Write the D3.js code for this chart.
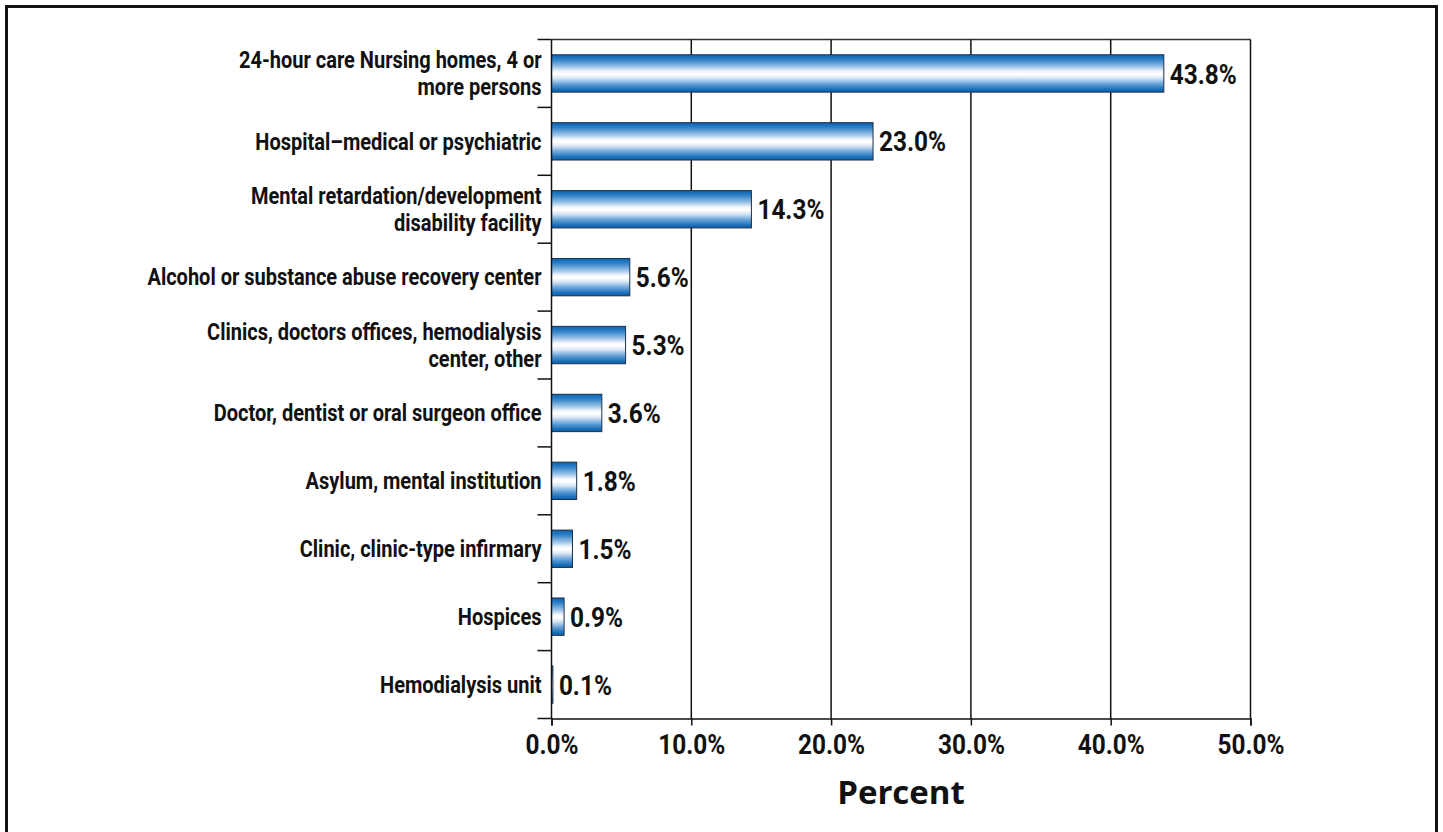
<!DOCTYPE html>
<html>
<head>
<meta charset="utf-8">
<script src="https://cdn.jsdelivr.net/npm/d3@7"></script>
<style>
  html, body { margin: 0; padding: 0; background: #fff; }
  svg { display: block; }
  .cat { font-family: "Roboto", "Liberation Sans", sans-serif; font-weight: bold; font-size: 23px; fill: #111; }
  .val { font-family: "Roboto", "Liberation Sans", sans-serif; font-weight: bold; font-size: 28px; fill: #111; }
  .tick-label { font-family: "Roboto", "Liberation Sans", sans-serif; font-weight: bold; font-size: 28px; fill: #111; }
  .title { font-family: "Open Sans", "Liberation Sans", sans-serif; font-weight: bold; font-size: 33px; fill: #111; }
</style>
</head>
<body>
<svg id="chart" width="1443" height="832"></svg>
<script>
// Place of occurrence categories (each entry is a list of label lines)
const categories = [
  ["24-hour care Nursing homes, 4 or", "more persons"],
  ["Hospital\u2013medical or psychiatric"],
  ["Mental retardation/development", "disability facility"],
  ["Alcohol or substance abuse recovery center"],
  ["Clinics, doctors offices, hemodialysis", "center, other"],
  ["Doctor, dentist or oral surgeon office"],
  ["Asylum, mental institution"],
  ["Clinic, clinic-type infirmary"],
  ["Hospices"],
  ["Hemodialysis unit"]
];
const percents = [43.8, 23.0, 14.3, 5.6, 5.3, 3.6, 1.8, 1.5, 0.9, 0.1];
const xTicks = [0, 10, 20, 30, 40, 50];
const axisTitle = "Percent";

const svg = d3.select("#chart");
const plot = { left: 551.5, right: 1250.5, top: 39.5, bottom: 718.5 };
const narrow = 0.87; // horizontal squeeze for a condensed look

// outer frame
svg.append("rect")
  .attr("x", 6.5).attr("y", 6.5)
  .attr("width", 1430).attr("height", 900)
  .attr("fill", "none").attr("stroke", "#111").attr("stroke-width", 3);

const x = d3.scaleLinear().domain([0, 50]).range([plot.left, plot.right]);
const y = d3.scaleBand().domain(d3.range(categories.length))
  .range([plot.top, plot.bottom]).paddingInner(0.45).paddingOuter(0.225);
const yOuter = d3.scaleBand().domain(d3.range(categories.length))
  .range([plot.top, plot.bottom]);

// bar gradient: blue edges fading to white in the middle
const defs = svg.append("defs");
const grad = defs.append("linearGradient").attr("id", "barGrad")
  .attr("x1", 0).attr("y1", 0).attr("x2", 0).attr("y2", 1);
[[0, "#0b62b0"], [0.12, "#2a7fc6"], [0.3, "#8fbbe3"], [0.45, "#f4f8fd"], [0.52, "#ffffff"],
 [0.62, "#dbe8f6"], [0.78, "#6aa4d8"], [0.92, "#1b72bd"], [1, "#0b5ea8"]]
  .forEach(([o, c]) => grad.append("stop").attr("offset", o).attr("stop-color", c));

// top border of plot area
svg.append("line").attr("x1", plot.left).attr("x2", plot.right)
  .attr("y1", plot.top).attr("y2", plot.top).attr("stroke", "#333").attr("stroke-width", 1.5);

// vertical gridlines (the 50% line closes the plot on the right)
svg.append("g").selectAll("line").data(xTicks.filter(d => d > 0)).join("line")
  .attr("x1", d => x(d)).attr("x2", d => x(d))
  .attr("y1", plot.top).attr("y2", plot.bottom)
  .attr("stroke", "#111").attr("stroke-width", 1.5);

// bars
svg.append("g").selectAll("rect").data(percents).join("rect")
  .attr("x", x(0))
  .attr("y", (d, i) => y(i))
  .attr("width", d => x(d) - x(0))
  .attr("height", y.bandwidth())
  .attr("fill", "url(#barGrad)")
  .attr("stroke", "#1d2f44").attr("stroke-width", 1);

// value labels
svg.append("g").selectAll("text").data(percents).join("text")
  .attr("class", "val")
  .attr("transform", (d, i) => `translate(${x(d) + 6},${y(i) + y.bandwidth() / 2}) scale(${narrow},1)`)
  .attr("dy", "0.36em")
  .text(d => d.toFixed(1) + "%");

// bottom axis
const xAxis = d3.axisBottom(x).tickValues(xTicks).tickSize(7).tickFormat(d => d.toFixed(1) + "%");
const gx = svg.append("g").attr("transform", `translate(0,${plot.bottom})`).call(xAxis);
gx.select(".domain").attr("stroke", "#111").attr("stroke-width", 1.5);
gx.selectAll(".tick line").attr("stroke", "#111").attr("stroke-width", 1.5);
gx.selectAll(".tick text").attr("class", "tick-label").attr("font-family", null)
  .attr("font-size", null).attr("fill", null)
  .attr("y", 0).attr("dy", null)
  .attr("transform", `translate(0,35) scale(${narrow},1)`);

// left axis line and category separator ticks
const gy = svg.append("g");
gy.append("line").attr("x1", plot.left).attr("x2", plot.left)
  .attr("y1", plot.top).attr("y2", plot.bottom).attr("stroke", "#111").attr("stroke-width", 1.5);
const bounds = d3.range(categories.length).map(i => yOuter(i)).concat([plot.bottom]);
gy.selectAll("line.sep").data(bounds).join("line").attr("class", "sep")
  .attr("x1", plot.left - 14).attr("x2", plot.left)
  .attr("y1", d => d).attr("y2", d => d)
  .attr("stroke", "#111").attr("stroke-width", 1.5);

// category labels, right-aligned against the axis
const lh = 27;
const cat = svg.append("g").selectAll("text").data(categories).join("text")
  .attr("class", "cat")
  .attr("text-anchor", "end")
  .attr("transform", (d, i) =>
    `translate(${plot.left - 10},${yOuter(i) + yOuter.bandwidth() / 2 - (d.length - 1) * lh / 2}) scale(${narrow},1)`);
cat.each(function (lines) {
  const t = d3.select(this);
  lines.forEach((ln, k) => {
    t.append("tspan").attr("x", 0).attr("dy", k === 0 ? "0.36em" : lh).text(ln);
  });
});

// axis title
svg.append("text").attr("class", "title")
  .attr("text-anchor", "middle")
  .attr("x", (plot.left + plot.right) / 2)
  .attr("y", 804)
  .text(axisTitle);
</script>
</body>
</html>
